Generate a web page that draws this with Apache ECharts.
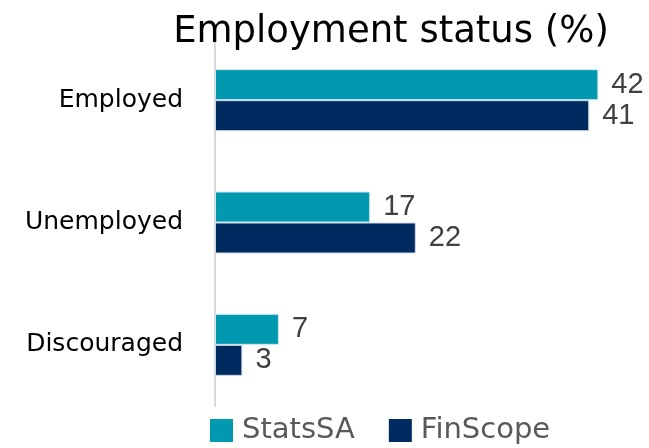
<!DOCTYPE html>
<html>
<head>
<meta charset="utf-8">
<script src="https://cdn.jsdelivr.net/npm/echarts@6/dist/echarts.min.js"></script>
<style>
  html, body { margin: 0; padding: 0; background: #fff; }
  #chart { width: 649px; height: 448px; }
</style>
</head>
<body>
<div id="chart"></div>
<script>
const categories = ["Employed", "Unemployed", "Discouraged"];
const statsSA = [42, 17, 7];
const finScope = [41, 22, 3];

const chart = echarts.init(document.getElementById("chart"));

const labelStyle = {
  show: true,
  position: "right",
  distance: 13,
  color: "#404040",
  fontSize: 29,
  fontFamily: "Liberation Sans, Arial, sans-serif"
};

chart.setOption({
  backgroundColor: "#fff",
  animation: false,
  title: {
    text: "Employment status (%)",
    left: 386,
    textAlign: "center",
    top: 9,
    textStyle: {
      fontFamily: "DejaVu Sans, sans-serif",
      fontSize: 37,
      fontWeight: "normal",
      color: "#000"
    }
  },
  legend: {
    bottom: 3,
    left: 210,
    padding: 0,
    itemWidth: 23,
    itemHeight: 23,
    itemGap: 34,
    icon: "rect",
    itemStyle: { borderWidth: 0 },
    textStyle: {
      fontFamily: "DejaVu Sans, sans-serif",
      fontSize: 29,
      color: "#595959",
      padding: [0, 0, 0, 4]
    },
    data: ["StatsSA", "FinScope"]
  },
  grid: {
    left: 215,
    top: 39,
    width: 429,
    height: 367,
    containLabel: false
  },
  xAxis: {
    type: "value",
    min: 0,
    max: 47,
    show: false
  },
  yAxis: {
    type: "category",
    inverse: true,
    data: categories,
    axisLine: { lineStyle: { color: "#d9d9d9", width: 2 } },
    axisTick: { show: false },
    axisLabel: {
      margin: 32,
      color: "#000",
      fontSize: 25,
      fontFamily: "DejaVu Sans, sans-serif"
    }
  },
  series: [
    {
      name: "StatsSA",
      type: "bar",
      data: statsSA,
      barWidth: 31,
      barGap: "0%",
      itemStyle: { color: "#0099AF", borderColor: "#cfe6ee", borderWidth: 1 },
      label: labelStyle
    },
    {
      name: "FinScope",
      type: "bar",
      data: finScope,
      barWidth: 31,
      itemStyle: { color: "#002B61", borderColor: "#cfd8e6", borderWidth: 1 },
      label: labelStyle
    }
  ]
});
</script>
</body>
</html>
